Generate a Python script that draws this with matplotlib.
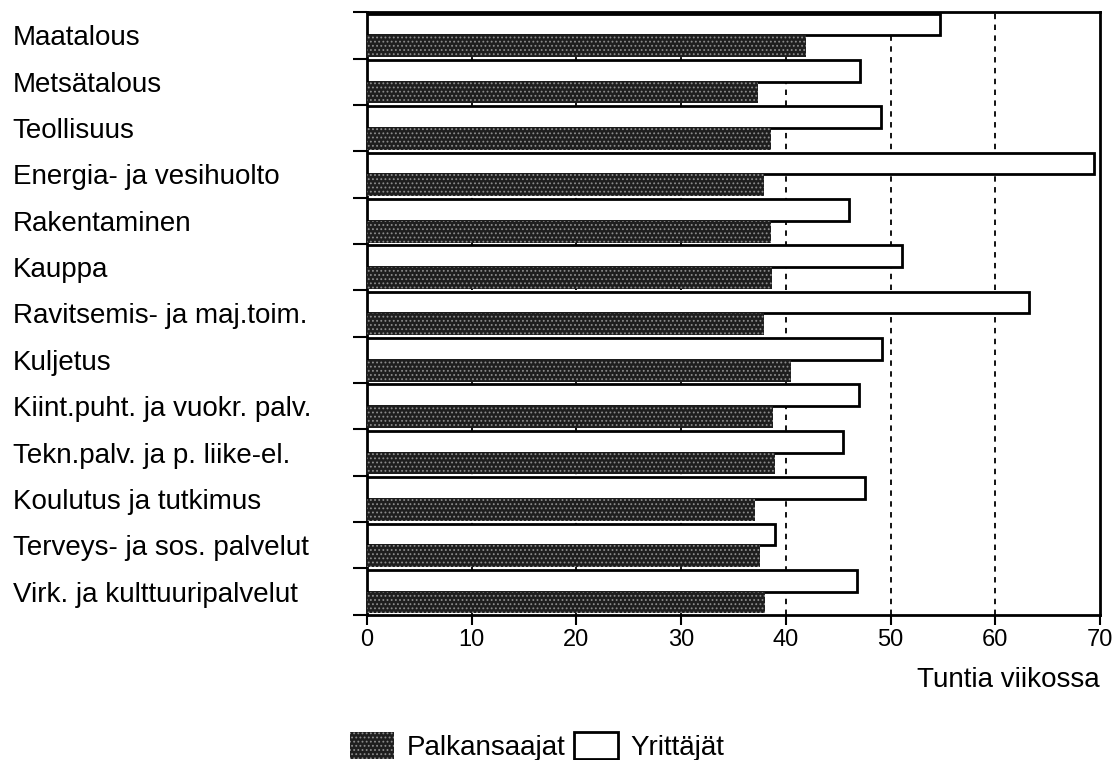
import numpy as np
import matplotlib
matplotlib.use('Agg')
import matplotlib.pyplot as plt
from matplotlib.patches import Patch

plt.rcParams['font.family'] = ['Liberation Sans', 'DejaVu Sans']
plt.rcParams['hatch.linewidth'] = 0.8

toimialat = ['Maatalous', 'Metsätalous', 'Teollisuus', 'Energia- ja vesihuolto',
             'Rakentaminen', 'Kauppa', 'Ravitsemis- ja maj.toim.', 'Kuljetus',
             'Kiint.puht. ja vuokr. palv.', 'Tekn.palv. ja p. liike-el.',
             'Koulutus ja tutkimus', 'Terveys- ja sos. palvelut',
             'Virk. ja kulttuuripalvelut']
palkansaajat = [41.9, 37.3, 38.6, 37.9, 38.6, 38.7, 37.9, 40.5, 38.8, 39.0, 37.1, 37.5, 38.0]
yrittajat = [54.7, 47.1, 49.1, 69.4, 46.0, 51.1, 63.2, 49.2, 47.0, 45.5, 47.6, 39.0, 46.8]
x_ticks = [0, 10, 20, 30, 40, 50, 60, 70]

dark_style = dict(facecolor='#1e1e1e', edgecolor='#8c8c8c', hatch='....', linewidth=0)
white_style = dict(facecolor='white', edgecolor='black', linewidth=2)

fig = plt.figure(figsize=(11.19, 7.6), dpi=100)
ax = fig.add_axes([0.328, 0.191, 0.655, 0.793])

y = np.arange(len(toimialat))
h = 0.47
ax.barh(y - h / 2, yrittajat, height=h, zorder=3, **white_style)
ax.barh(y + h / 2, palkansaajat, height=h, zorder=3, **dark_style)

for gx in x_ticks[1:-1]:
    ax.axvline(gx, color='black', linestyle=(0, (3, 3)), linewidth=1.3, zorder=1)

ax.set_xlim(0, 70)
ax.set_ylim(len(toimialat) - 0.5, -0.5)

ax.set_xticks(x_ticks)
ax.set_xticklabels([str(v) for v in x_ticks], fontsize=17)
ax.tick_params(axis='x', direction='out', length=7, width=1.5, pad=3)

# boundary ticks between groups, labels at group centres
ax.set_yticks(np.arange(-0.5, len(toimialat), 1.0))
ax.set_yticklabels([])
ax.tick_params(axis='y', which='major', direction='out', length=10, width=1.5)
ax.set_yticks(y, minor=True)
ax.set_yticklabels(toimialat, minor=True, fontsize=20, ha='left')
ax.tick_params(axis='y', which='minor', length=0, pad=255)

for sp in ax.spines.values():
    sp.set_linewidth(2)

ax.set_xlabel('Tuntia viikossa', fontsize=20, loc='right', labelpad=12)

handles = [Patch(**dark_style), Patch(**white_style)]
fig.legend(handles, ['Palkansaajat', 'Yrittäjät'], loc='center',
           bbox_to_anchor=(0.48, 0.018), ncol=2, frameon=False, fontsize=20,
           handlelength=1.6, handleheight=1.1, handletextpad=0.45,
           columnspacing=0.3)

fig.savefig('out.png', dpi=100)
